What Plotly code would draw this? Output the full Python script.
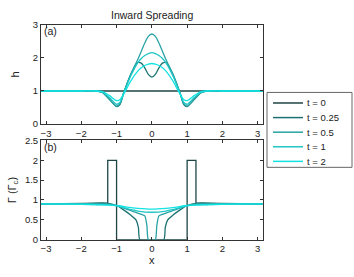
import plotly.graph_objects as go

W, H = 354, 277
times = ["t = 0", "t = 0.25", "t = 0.5", "t = 1", "t = 2"]
colors = ["#1e4444", "#1c7272", "#27a3a3", "#1fc6c6", "#12e2e2"]

# Panel (a): film height h
xh = [-3.14, -2.0, -1.6, -1.4, -1.2, -1.05, -1.0, -0.95, -0.8, -0.6, -0.4, -0.2, 0.0,
      0.2, 0.4, 0.6, 0.8, 0.95, 1.0, 1.05, 1.2, 1.4, 1.6, 2.0, 3.14]
h_t0 = [1] * len(xh)
xh1 = [-3.14, -2.0, -1.6, -1.4, -1.2, -1.0, -0.9, -0.8, -0.6, -0.4, -0.3, -0.2, -0.1, 0.0,
       0.1, 0.2, 0.3, 0.4, 0.6, 0.8, 0.9, 1.0, 1.2, 1.4, 1.6, 2.0, 3.14]
h_t025 = [1, 1, 1.0, 0.96, 0.75, 0.53, 0.6, 0.93, 1.5, 1.86, 1.84, 1.7, 1.5, 1.42,
          1.5, 1.7, 1.84, 1.86, 1.5, 0.93, 0.6, 0.53, 0.75, 0.96, 1.0, 1, 1]
h_t05 = [1, 1, 1.0, 0.96, 0.74, 0.54, 0.62, 0.95, 1.5, 1.95, 2.2, 2.45, 2.65, 2.72,
         2.65, 2.45, 2.2, 1.95, 1.5, 0.95, 0.62, 0.54, 0.74, 0.96, 1.0, 1, 1]
h_t1 = [1, 1, 1.0, 0.97, 0.8, 0.6, 0.66, 0.93, 1.45, 1.85, 1.98, 2.07, 2.13, 2.16,
        2.13, 2.07, 1.98, 1.85, 1.45, 0.93, 0.66, 0.6, 0.8, 0.97, 1.0, 1, 1]
h_t2 = [1, 1, 1.0, 0.98, 0.86, 0.71, 0.74, 0.9, 1.3, 1.6, 1.7, 1.77, 1.81, 1.83,
        1.81, 1.77, 1.7, 1.6, 1.3, 0.9, 0.74, 0.71, 0.86, 0.98, 1.0, 1, 1]

# Panel (b): surfactant concentration Gamma
xg0 = [-3.14, -1.25, -1.25, -1.0, -1.0, 1.0, 1.0, 1.25, 1.25, 3.14]
g_t0 = [0.9, 0.92, 2.0, 2.0, 0.0, 0.0, 2.0, 2.0, 0.92, 0.9]
xg1 = [-3.14, -2.0, -1.6, -1.3, -1.0, -0.8, -0.6, -0.45, -0.38, -0.34, 0.34, 0.38, 0.45, 0.6, 0.8, 1.0, 1.3, 1.6, 2.0, 3.14]
g_t025 = [0.9, 0.9, 0.92, 0.92, 0.86, 0.75, 0.62, 0.5, 0.3, 0.0, 0.0, 0.3, 0.5, 0.62, 0.75, 0.86, 0.92, 0.92, 0.9, 0.9]
xg2 = [-3.14, -2.0, -1.6, -1.3, -1.0, -0.7, -0.4, -0.2, -0.14, -0.1, 0.1, 0.14, 0.2, 0.4, 0.7, 1.0, 1.3, 1.6, 2.0, 3.14]
g_t05 = [0.9, 0.9, 0.91, 0.9, 0.86, 0.76, 0.67, 0.6, 0.35, 0.0, 0.0, 0.35, 0.6, 0.67, 0.76, 0.86, 0.9, 0.91, 0.9, 0.9]
xg3 = [-3.14, -2.0, -1.6, -1.3, -1.0, -0.7, -0.4, 0.0, 0.4, 0.7, 1.0, 1.3, 1.6, 2.0, 3.14]
g_t1 = [0.9, 0.9, 0.88, 0.88, 0.85, 0.78, 0.72, 0.69, 0.72, 0.78, 0.85, 0.88, 0.88, 0.9, 0.9]
g_t2 = [0.9, 0.89, 0.88, 0.87, 0.86, 0.82, 0.79, 0.77, 0.79, 0.82, 0.86, 0.87, 0.88, 0.89, 0.9]

xtick_vals = [-3, -2, -1, 0, 1, 2, 3]
xtick_text = ["\u22123", "\u22122", "\u22121", "0", "1", "2", "3"]

h_series = [(xh, h_t0), (xh1, h_t025), (xh1, h_t05), (xh1, h_t1), (xh1, h_t2)]
g_series = [(xg0, g_t0), (xg1, g_t025), (xg2, g_t05), (xg3, g_t1), (xg3, g_t2)]

fig = go.Figure()
for i, (x, y) in enumerate(h_series):
    fig.add_trace(go.Scatter(x=x, y=y, mode="lines", name=times[i],
                             line=dict(color=colors[i], width=1.3, shape="spline", smoothing=0.6),
                             xaxis="x", yaxis="y", showlegend=False))
for i, (x, y) in enumerate(g_series):
    shape = "linear" if i == 0 else "spline"
    fig.add_trace(go.Scatter(x=x, y=y, mode="lines", name=times[i],
                             line=dict(color=colors[i], width=1.3, shape=shape, smoothing=0.5),
                             xaxis="x2", yaxis="y2", showlegend=False))

x0, x1 = 41 / W, 262.7 / W
axcommon = dict(showgrid=False, zeroline=False, showline=True, linecolor="#333333", linewidth=1,
                mirror="ticks", ticks="inside", ticklen=3, tickcolor="#333333",
                tickfont=dict(size=9.5, color="#222222"))
fig.update_layout(
    width=W, height=H, margin=dict(l=0, r=0, t=0, b=0),
    paper_bgcolor="white", plot_bgcolor="white",
    font=dict(family="Liberation Sans, Arial, sans-serif", size=9, color="#222222"),
    xaxis=dict(domain=[x0, x1], range=[-3.1416, 3.1416], tickvals=xtick_vals, ticktext=xtick_text,
               anchor="y", **axcommon),
    yaxis=dict(domain=[1 - 123 / H, 1 - 19.5 / H], range=[0, 3], tickvals=[0, 1, 2, 3],
               anchor="x", title=dict(text="h", standoff=10, font=dict(size=11)), **axcommon),
    xaxis2=dict(domain=[x0, x1], range=[-3.1416, 3.1416], tickvals=xtick_vals, ticktext=xtick_text,
                anchor="y2", title=dict(text="x", standoff=2, font=dict(size=11)), **axcommon),
    yaxis2=dict(domain=[1 - 243.3 / H, 1 - 140 / H], range=[0, 2.5],
                tickvals=[0, 0.5, 1, 1.5, 2, 2.5], anchor="x2",
                title=dict(text="\u0393 (\u0393<sub>c</sub>)", standoff=6, font=dict(size=11)), **axcommon),
    showlegend=False,
)
fig.add_annotation(text="Inward Spreading", x=(x0 + x1) / 2, y=1 - 9 / H, xref="paper", yref="paper",
                   showarrow=False, font=dict(size=10.5), xanchor="center", yanchor="middle")
fig.add_annotation(text="(a)", x=-3.1, y=2.8, xref="x", yref="y", showarrow=False,
                   xanchor="left", yanchor="middle", font=dict(size=10.5))
fig.add_annotation(text="(b)", x=-3.1, y=2.33, xref="x2", yref="y2", showarrow=False,
                   xanchor="left", yanchor="middle", font=dict(size=10.5))

# Legend box (drawn in paper coordinates)
lx0, lx1, ly0, ly1 = 267, 352, 90, 168
fig.add_shape(type="rect", xref="paper", yref="paper", x0=lx0 / W, x1=lx1 / W,
              y0=1 - ly1 / H, y1=1 - ly0 / H, line=dict(color="#666666", width=1),
              fillcolor="white")
for i, name in enumerate(times):
    yy = 1 - (101 + 15.2 * i) / H
    fig.add_shape(type="line", xref="paper", yref="paper", x0=273 / W, x1=303 / W,
                  y0=yy, y1=yy, line=dict(color=colors[i], width=1.5))
    fig.add_annotation(text=name, x=305 / W, y=yy, xref="paper", yref="paper", showarrow=False,
                       xanchor="left", yanchor="middle", font=dict(size=9.5))

fig.write_html("out.html", config={"displayModeBar": False},
               post_script="document.body.style.margin='0';document.body.style.overflow='hidden';")
